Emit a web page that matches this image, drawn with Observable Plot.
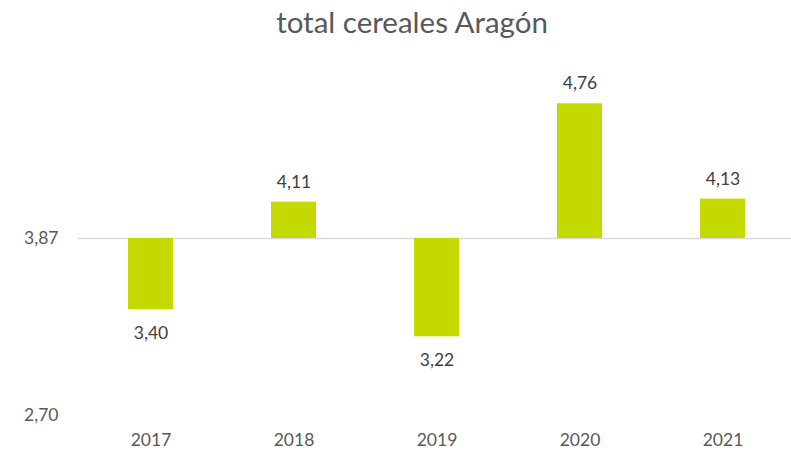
<!DOCTYPE html>
<html><head><meta charset="utf-8">
<script src="https://cdn.jsdelivr.net/npm/d3@7"></script>
<script src="https://cdn.jsdelivr.net/npm/@observablehq/plot@0.6"></script>
<style>
body{margin:0;background:#fff;font-family:Lato,sans-serif;}
#title{height:45px;line-height:44px;text-align:center;font-size:29.5px;color:#595959;width:791px;padding-left:33px;box-sizing:border-box;}
</style></head>
<body>
<div id="title">total cereales Aragón</div>
<div id="chart"></div>
<script>
const years = ["2017","2018","2019","2020","2021"];
const values = [3.40, 4.11, 3.22, 4.76, 4.13];
const baseline = 3.87;
const yMin = 2.70, yMax = 5.00;
const yTicks = [2.70, 3.87];

const data = years.map((y, i) => ({year: y, value: values[i]}));
const fmt = v => v.toFixed(2).replace(".", ",");

const chart = Plot.plot({
  width: 791, height: 410,
  marginLeft: 78, marginRight: 0, marginTop: 22, marginBottom: 40,
  style: {fontFamily: "Lato, sans-serif", fontSize: "17.5px", color: "#595959", background: "#fff"},
  x: {domain: years, range: [78, 794], paddingInner: 0.686, paddingOuter: 0.343, label: null},
  y: {domain: [yMin, yMax], label: null},
  marks: [
    Plot.ruleY([baseline], {stroke: "#d9d9d9", strokeWidth: 1.5}),
    Plot.barY(data, {x: "year", y1: baseline, y2: "value", fill: "#c3d900"}),
    Plot.text(data.filter(d => d.value >= baseline), {x: "year", y: "value", text: d => fmt(d.value), dy: -20, fill: "#404040", fontSize: 17.5}),
    Plot.text(data.filter(d => d.value < baseline), {x: "year", y: "value", text: d => fmt(d.value), dy: 24, fill: "#404040", fontSize: 17.5}),
    Plot.axisY({ticks: yTicks, tickFormat: fmt, tickSize: 0, tickPadding: 20, fill: "#595959", fontSize: 17.5}),
    Plot.axisX({tickSize: 0, tickPadding: 18, fill: "#595959", fontSize: 17.5})
  ]
});
document.getElementById("chart").append(chart);
</script>
</body></html>
